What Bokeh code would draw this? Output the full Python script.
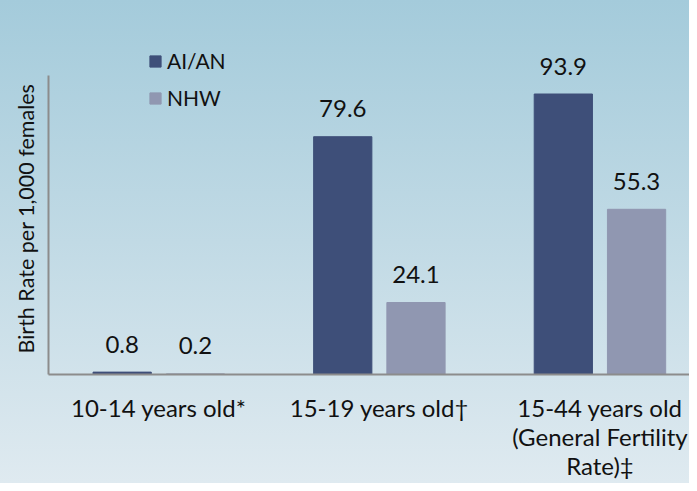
from bokeh.plotting import figure
from bokeh.models import Range1d, FixedTicker, ColumnDataSource, Legend, LegendItem, Title
from bokeh.transform import dodge
from bokeh.core.properties import value
from bokeh.embed import file_html
from bokeh.resources import INLINE

# ---- data ----
groups = ["10-14 years old*", "15-19 years old\u2020", "15-44 years old\n(General Fertility\nRate)\u2021"]
series = ["AI/AN", "NHW"]
aian = [0.8, 79.6, 93.9]
nhw = [0.2, 24.1, 55.3]
y_label = "Birth Rate per 1,000 females"

FONT = "Lato"
C_AIAN = "#3e4f79"
C_NHW = "#9097b1"
AXIS_C = "#8c8c8c"
TXT = "#111111"

src = ColumnDataSource(dict(
    x=list(range(len(groups))),
    aian=aian, nhw=nhw,
    aian_t=[f"{v:.1f}" for v in aian],
    nhw_t=[f"{v:.1f}" for v in nhw],
))

p = figure(width=689, height=483, output_backend="svg", toolbar_location=None,
           x_range=Range1d(-0.5, 2.406), y_range=Range1d(0, 125.2),
           min_border_left=47, min_border_right=0, min_border_top=0,
           min_border_bottom=109)
p.styles = {"background": "linear-gradient(to bottom, #a4cbdb 0%, #c1dae5 50%, #dfeaf0 100%)"}
p.background_fill_alpha = 0
p.border_fill_alpha = 0
p.outline_line_color = None
p.grid.visible = False

OFF = 0.166
W = 0.264
r1 = p.vbar(x=dodge("x", -OFF, range=p.x_range), top="aian", width=W, source=src,
            fill_color=C_AIAN, line_color=C_AIAN)
r2 = p.vbar(x=dodge("x", OFF, range=p.x_range), top="nhw", width=W, source=src,
            fill_color=C_NHW, line_color=C_NHW)

for col, off in (("aian", -OFF), ("nhw", OFF)):
    p.text(x=dodge("x", off, range=p.x_range), y=col, text=col + "_t", source=src,
           text_align="center", text_baseline="alphabetic", y_offset=-28,
           text_font=value(FONT), text_font_size="24px", text_color=TXT)

# x axis
xa = p.xaxis[0]
xa.ticker = FixedTicker(ticks=list(range(len(groups))))
xa.major_label_overrides = {i: g for i, g in enumerate(groups)}
xa.major_tick_line_color = None
xa.minor_tick_line_color = None
xa.major_tick_out = 0
xa.minor_tick_out = 0
xa.axis_line_color = AXIS_C
xa.axis_line_width = 2
xa.major_label_standoff = 18
xa.major_label_text_font = FONT
xa.major_label_text_font_size = "24px"
xa.major_label_text_line_height = 1.0
xa.major_label_text_color = TXT

# y axis (line only, up to 100)
ya = p.yaxis[0]
ya.ticker = FixedTicker(ticks=[])
ya.bounds = (0, 100)
ya.major_tick_line_color = None
ya.minor_tick_line_color = None
ya.axis_line_color = AXIS_C
ya.axis_line_width = 2

p.add_layout(Title(text=y_label, align="left", offset=21, standoff=20,
                   text_font=FONT, text_font_size="21.5px",
                   text_font_style="normal", text_color=TXT), "left")

legend = Legend(items=[LegendItem(label=series[0], renderers=[r1]),
                       LegendItem(label=series[1], renderers=[r2])],
                location=(100, 264), padding=0, spacing=12,
                glyph_width=14, glyph_height=14, label_standoff=5,
                border_line_color=None, background_fill_alpha=0,
                label_text_font=FONT, label_text_font_size="21px",
                label_text_color=TXT)
p.add_layout(legend)

open("out.html", "w").write(file_html(p, INLINE))
